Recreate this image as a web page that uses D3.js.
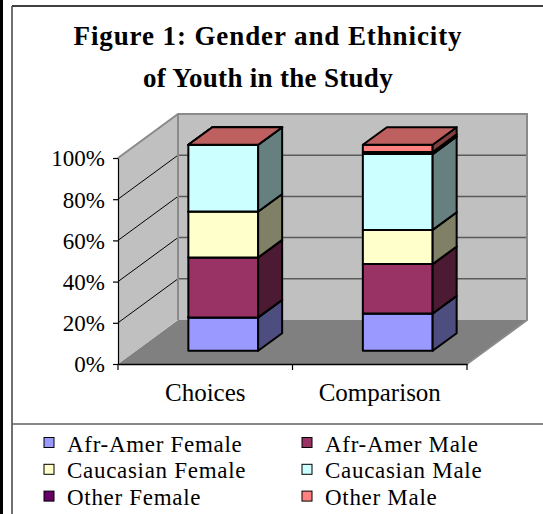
<!DOCTYPE html>
<html>
<head>
<meta charset="utf-8">
<script src="https://cdn.jsdelivr.net/npm/d3@7"></script>
<style>
  html, body { margin: 0; padding: 0; background: #fff; }
  svg { display: block; }
  text { font-family: "Liberation Serif", "Times New Roman", serif; fill: #000; }
</style>
</head>
<body>
<svg id="chart" width="543" height="514"></svg>
<script>
// ---- data ----
const titleLines = ["Figure 1: Gender and Ethnicity", "of Youth in the Study"];
const categories = ["Choices", "Comparison"];
const seriesNames = ["Afr-Amer Female", "Afr-Amer Male", "Caucasian Female", "Caucasian Male", "Other Female", "Other Male"];
const seriesColors = ["#9999FF", "#993366", "#FFFFCC", "#CCFFFF", "#660066", "#FF8080"];
// percentage share of each group per category (series order as above)
const choicesValues    = [16.2, 29.1, 22.3, 32.4, 0.0, 0.0];
const comparisonValues = [18.1, 24.0, 16.6, 36.8, 1.0, 3.5];
const yTickValues = [0, 0.2, 0.4, 0.6, 0.8, 1.0];

const valuesByCategory = [choicesValues, comparisonValues];

// ---- layout ----
const svg = d3.select("#chart");
const front = { left: 118, right: 467, bottom: 364, top: 158 };
const depth = { dx: 60, dy: -44 };
const barDepth = [0.3, 0.7];

const y = d3.scaleLinear().domain([0, 1]).range([front.bottom, front.top]);
const x = d3.scaleBand().domain(categories).range([front.left, front.right])
  .paddingInner(0.6).paddingOuter(0.3);

const off = d => [depth.dx * d, depth.dy * d];
const shade = (c, k) => { const r = d3.rgb(c); return d3.rgb(r.r * k, r.g * k, r.b * k).formatHex(); };
const poly = pts => pts.map(p => p.join(",")).join(" ");

// frame
svg.append("rect").attr("x", 0).attr("y", 0).attr("width", 3).attr("height", 514).attr("fill", "#000");
svg.append("line").attr("x1", 12).attr("x2", 12).attr("y1", 6).attr("y2", 514).attr("stroke", "#404040").attr("stroke-width", 1.5);
svg.append("line").attr("x1", 12).attr("x2", 543).attr("y1", 6).attr("y2", 6).attr("stroke", "#404040").attr("stroke-width", 2);
svg.append("line").attr("x1", 12).attr("x2", 543).attr("y1", 424).attr("y2", 424).attr("stroke", "#606060").attr("stroke-width", 1.5);

// title
svg.append("g").selectAll("text").data(titleLines).join("text")
  .attr("x", 268).attr("y", (d, i) => 45 + i * 42)
  .attr("text-anchor", "middle")
  .attr("font-size", 27).attr("font-weight", "bold")
  .attr("letter-spacing", (d, i) => i === 0 ? 0.9 : 0.3)
  .text(d => d);

// walls
const [bx, by] = off(1);
const back = { left: front.left + bx, right: front.right + bx, bottom: front.bottom + by, top: front.top + by };
const walls = svg.append("g");
// floor
walls.append("polygon")
  .attr("points", poly([[front.left, front.bottom], [front.right, front.bottom], [back.right, back.bottom], [back.left, back.bottom]]))
  .attr("fill", "#808080");
// side wall
walls.append("polygon")
  .attr("points", poly([[front.left, front.bottom], [back.left, back.bottom], [back.left, back.top], [front.left, front.top]]))
  .attr("fill", "#C0C0C0");
// back wall
walls.append("polygon")
  .attr("points", poly([[back.left, back.bottom], [back.right, back.bottom], [back.right, back.top], [back.left, back.top]]))
  .attr("fill", "#C0C0C0");

// gridlines on back wall
walls.selectAll("line.grid").data(yTickValues.slice(1, -1)).join("line")
  .attr("class", "grid")
  .attr("x1", back.left).attr("x2", back.right)
  .attr("y1", d => y(d) + by).attr("y2", d => y(d) + by)
  .attr("stroke", "#5a5a5a").attr("stroke-width", 1.5);
// diagonals on side wall
walls.selectAll("line.diag").data(yTickValues.slice(1, -1)).join("line")
  .attr("class", "diag")
  .attr("x1", front.left).attr("x2", back.left)
  .attr("y1", d => y(d)).attr("y2", d => y(d) + by)
  .attr("stroke", "#000").attr("stroke-width", 1);
// wall outlines
walls.append("polyline")
  .attr("points", poly([[front.left, front.top], [back.left, back.top], [back.right, back.top], [back.right, back.bottom], [front.right, front.bottom]]))
  .attr("fill", "none").attr("stroke", "#8a8a8a").attr("stroke-width", 2);
walls.append("line")
  .attr("x1", back.left).attr("x2", back.left).attr("y1", back.top).attr("y2", back.bottom)
  .attr("stroke", "#8a8a8a").attr("stroke-width", 2);

// bars
const [f0x, f0y] = off(barDepth[0]);
const [f1x, f1y] = off(barDepth[1]);
const bars = svg.append("g");
categories.forEach((cat, ci) => {
  const vals = valuesByCategory[ci];
  const total = d3.sum(vals);
  let cum = 0;
  const xl = x(cat) + f0x, xr = x(cat) + x.bandwidth() + f0x;
  const ddx = f1x - f0x, ddy = f1y - f0y;
  vals.forEach((v, si) => {
    const y0 = y(cum / total) + f0y;
    cum += v;
    const y1 = y(cum / total) + f0y;
    const g = bars.append("g").attr("stroke", "#000").attr("stroke-width", 2).attr("stroke-linejoin", "round");
    if (v > 0) {
      g.append("polygon").attr("points", poly([[xl, y0], [xr, y0], [xr, y1], [xl, y1]]))
        .attr("fill", seriesColors[si]);
      g.append("polygon").attr("points", poly([[xr, y0], [xr + ddx, y0 + ddy], [xr + ddx, y1 + ddy], [xr, y1]]))
        .attr("fill", shade(seriesColors[si], 0.5));
    }
    g.append("polygon").attr("points", poly([[xl, y1], [xr, y1], [xr + ddx, y1 + ddy], [xl + ddx, y1 + ddy]]))
      .attr("fill", shade(seriesColors[si], 0.75));
  });
});

// y axis
const yAxis = svg.append("g").attr("transform", `translate(${front.left},0)`)
  .call(d3.axisLeft(y).tickValues(yTickValues).tickFormat(d3.format(".0%")).tickSize(5).tickSizeOuter(0).tickPadding(8));
yAxis.select(".domain").attr("stroke", "#000").attr("stroke-width", 1.2);
yAxis.selectAll(".tick line").attr("stroke", "#000").attr("stroke-width", 1.2);
yAxis.selectAll(".tick text").attr("font-family", "Liberation Serif").attr("font-size", 23).attr("dy", "0.34em");

// x axis
const xAxis = svg.append("g").attr("transform", `translate(0,${front.bottom})`)
  .call(d3.axisBottom(x).tickSize(0).tickPadding(19));
xAxis.select(".domain").attr("stroke", "#000").attr("stroke-width", 1.5);
xAxis.selectAll(".tick text").attr("font-family", "Liberation Serif").attr("font-size", 25);
const boundaries = [front.left].concat(categories.map(c => x(c) + x.bandwidth() + x.step() * x.paddingInner() / 2).slice(0, -1), [front.right]);
xAxis.selectAll("line.bound").data(boundaries).join("line")
  .attr("class", "bound")
  .attr("x1", d => d).attr("x2", d => d).attr("y1", 0).attr("y2", 6)
  .attr("stroke", "#000").attr("stroke-width", 1.2);

// legend
const legend = svg.append("g");
const legItems = legend.selectAll("g").data(seriesNames).join("g")
  .attr("transform", (d, i) => `translate(${i % 2 === 0 ? 44 : 302},${437.5 + Math.floor(i / 2) * 26.8})`);
legItems.append("rect").attr("width", 10).attr("height", 10)
  .attr("fill", (d, i) => seriesColors[i]).attr("stroke", "#000").attr("stroke-width", 1);
legItems.append("text").attr("x", 23).attr("y", 14)
  .attr("font-size", 23).attr("letter-spacing", 0.7)
  .text(d => d);
</script>
</body>
</html>
